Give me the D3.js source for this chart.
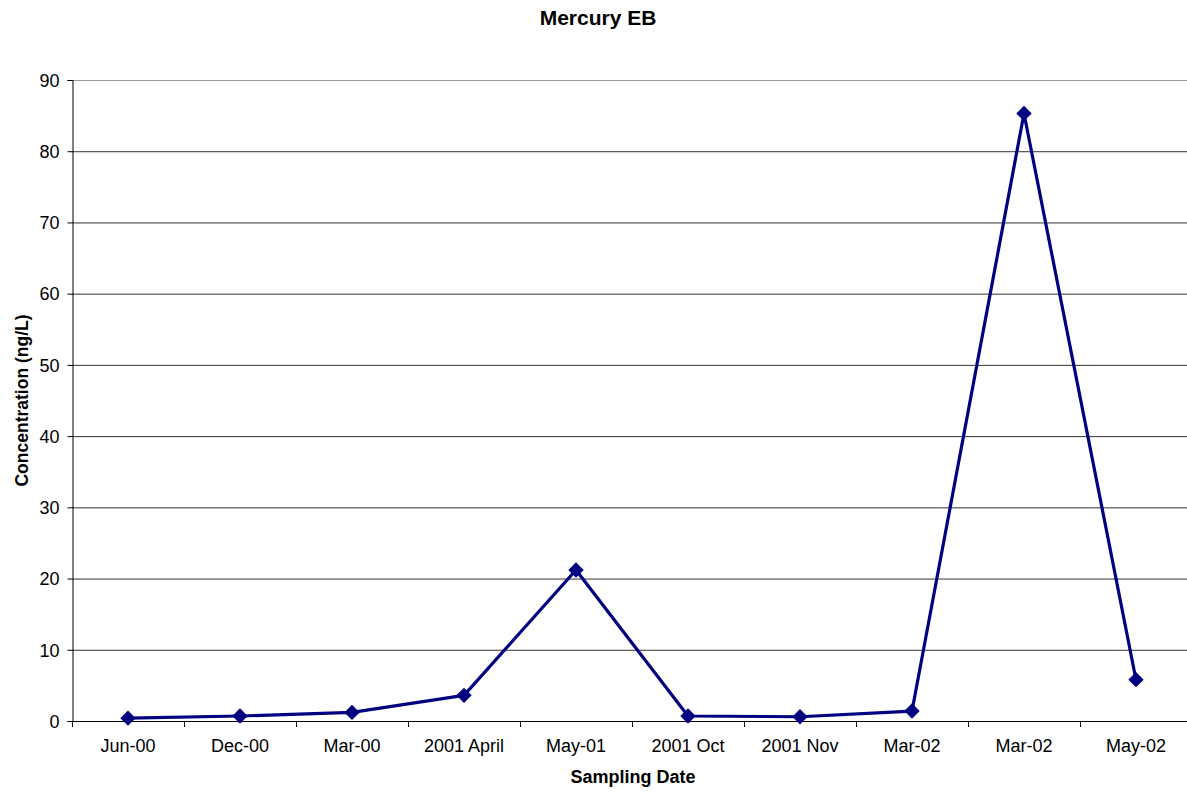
<!DOCTYPE html>
<html><head><meta charset="utf-8">
<script src="https://cdn.jsdelivr.net/npm/d3@7"></script>
<style>body{margin:0;background:#fff;} text{font-family:Arial,"Liberation Sans",sans-serif;}</style>
</head><body><svg id="c" width="1187" height="792"></svg>
<script>
const categories = ["Jun-00","Dec-00","Mar-00","2001 April","May-01","2001 Oct","2001 Nov","Mar-02","Mar-02","May-02"];
const values = [0.4,0.7,1.2,3.6,21.2,0.7,0.6,1.4,85.3,5.8];
const yTicks = [0,10,20,30,40,50,60,70,80,90];

const svg = d3.select("#c");
const L=72, R=1192, T=80, B=721;
const ids = categories.map((c,i)=>i);
const x = d3.scaleBand().domain(ids).range([L,R]).padding(0);
const y = d3.scaleLinear().domain([0,90]).range([B,T]);
const FF = "Arial, Liberation Sans, sans-serif";

// gridlines
svg.append("g").selectAll("line").data(yTicks.filter(d=>d>0)).join("line")
  .attr("x1",L).attr("x2",R).attr("y1",d=>y(d)+0.5).attr("y2",d=>y(d)+0.5)
  .attr("stroke",d=>d===90?"#999":"#333").attr("stroke-width",1);

// y axis
const ya = svg.append("g").attr("transform",`translate(${L+0.5},0)`)
  .call(d3.axisLeft(y).tickValues(yTicks).tickSize(5).tickPadding(8));
ya.select(".domain").attr("stroke","#000");
ya.selectAll(".tick line").attr("stroke","#000");
ya.selectAll("text").attr("font-size",18).attr("fill","#000").attr("font-family",FF).attr("dy","0.35em");

// x axis
const xa = svg.append("g").attr("transform",`translate(0,${B+0.5})`)
  .call(d3.axisBottom(x).tickFormat(i=>categories[i]).tickSize(0).tickPadding(18));
xa.select(".domain").attr("stroke","#000").attr("d",`M${L},0H${R}`);
xa.selectAll("text").attr("font-size",18).attr("fill","#000").attr("font-family",FF);
// category boundary ticks
svg.append("g").selectAll("line").data(d3.range(categories.length+1)).join("line")
  .attr("x1",i=>L+i*x.step()+0.5).attr("x2",i=>L+i*x.step()+0.5)
  .attr("y1",B).attr("y2",B+6).attr("stroke","#000");

// line
const cx = i=>x(i)+x.bandwidth()/2;
svg.append("path").datum(values)
  .attr("d",d3.line().x((d,i)=>cx(i)).y(d=>y(d)))
  .attr("fill","none").attr("stroke","#000080").attr("stroke-width",3.2).attr("stroke-linejoin","round");

svg.append("g").selectAll("path").data(values).join("path")
  .attr("d",d3.symbol().type(d3.symbolDiamond2).size(150))
  .attr("transform",(d,i)=>`translate(${cx(i)},${y(d)})`)
  .attr("fill","#000080");

// titles
svg.append("text").attr("x",598).attr("y",25).attr("text-anchor","middle")
  .attr("font-size",21).attr("font-weight","bold").text("Mercury EB");
svg.append("text").attr("x",633).attr("y",783).attr("text-anchor","middle")
  .attr("font-size",18).attr("font-weight","bold").text("Sampling Date");
svg.append("text").attr("transform",`translate(28,${(T+B)/2}) rotate(-90)`).attr("text-anchor","middle")
  .attr("font-size",17.5).attr("font-weight","bold").text("Concentration (ng/L)");
</script></body></html>
